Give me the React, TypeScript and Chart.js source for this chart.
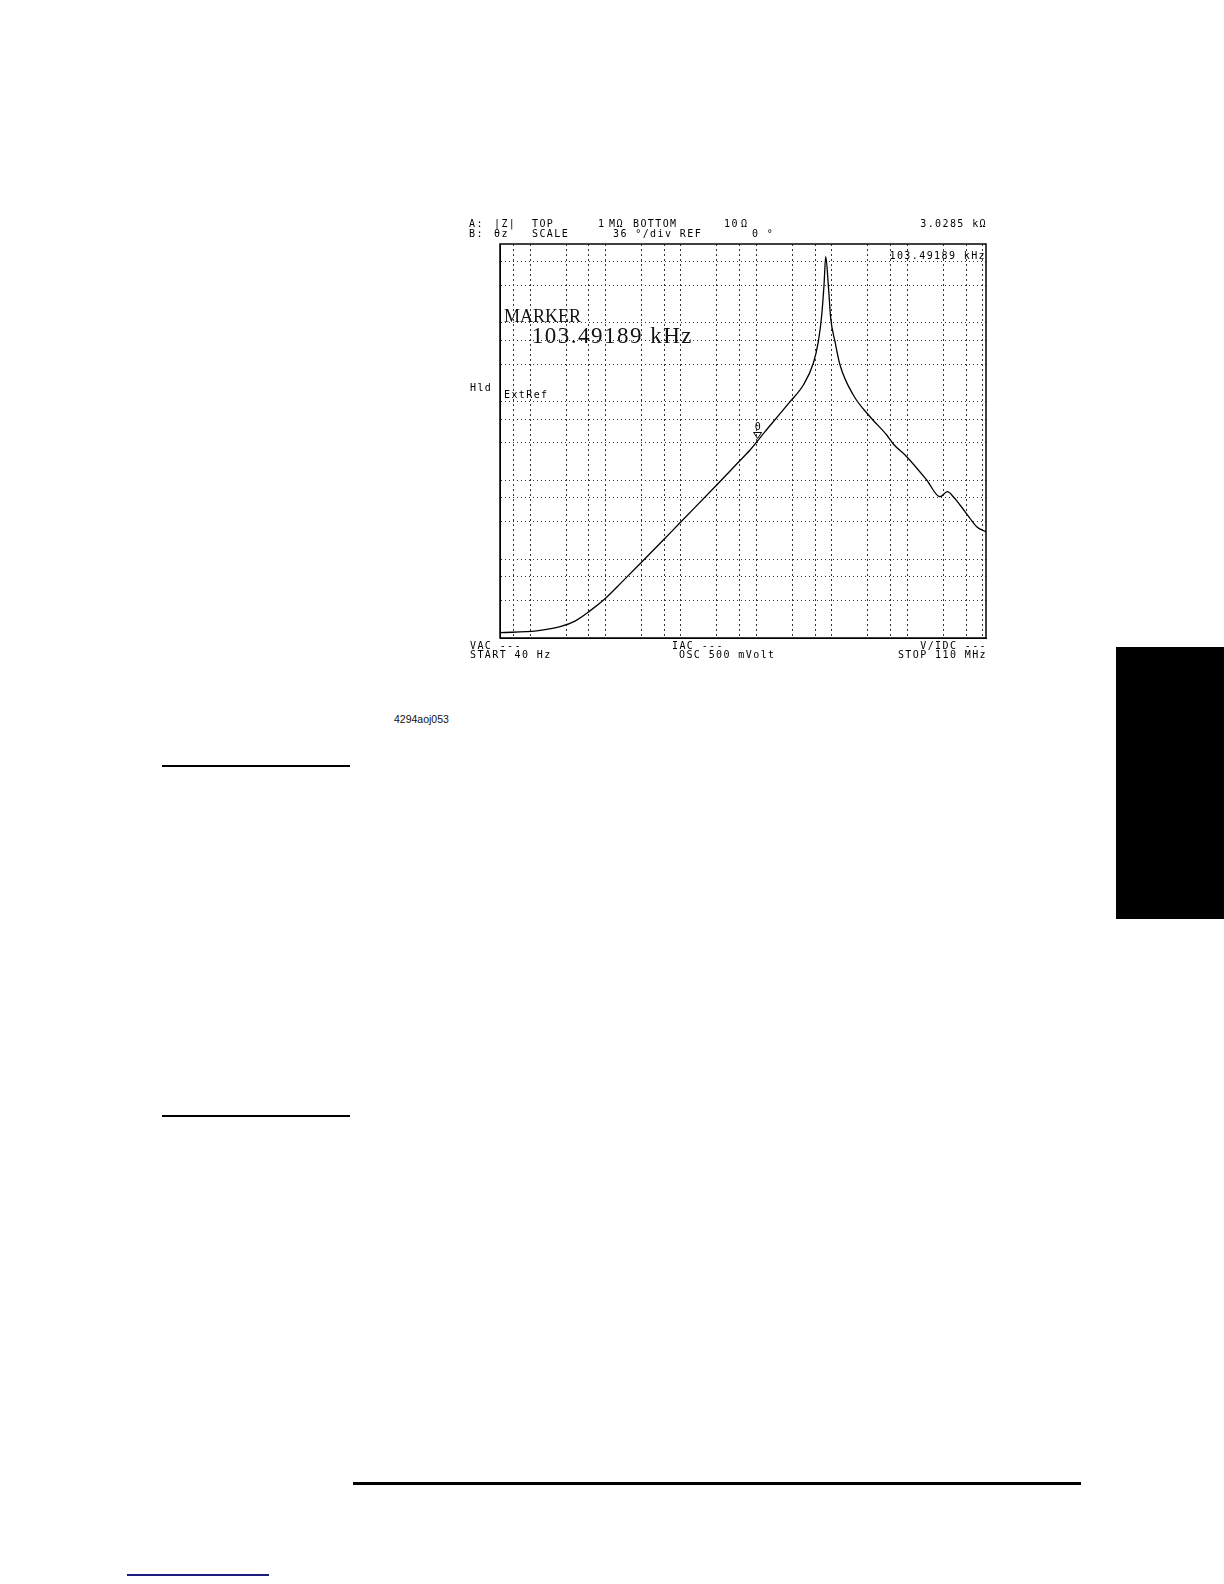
import React, { useEffect, useRef } from "react";
import { Chart, registerables } from "chart.js";

Chart.register(...registerables);

// ---- data ----
const freqHz = [
  40, 122, 250, 394, 604, 985, 1721, 2953, 5832, 9708, 29720, 57520, 82240,
  129800, 278600, 418000, 566800, 660400, 732800, 785600, 828000, 895600,
  964000, 1099000, 1280000, 1919000, 3199000, 5320000, 6500000, 9790000,
  18000000, 27000000, 33800000, 40600000, 49800000, 67600000, 82800000, 110000000,
];
const impedanceOhm = [
  11.7, 12.3, 13.9, 16.4, 21.6, 31.5, 53.5, 90, 175, 290, 874, 1698, 2432,
  4150, 9977, 16250, 30620, 57540, 125600, 301900, 690200, 301900,
  114000, 57540, 29130, 12130, 6430, 3767, 2900, 2000,
  1012, 621, 719, 621, 487, 330, 258, 223,
];
const freqGridHz = [
  60, 100, 300, 600, 1e3, 3e3, 6e3, 1e4, 3e4, 6e4, 1e5, 3e5, 6e5, 1e6, 3e6,
  6e6, 1e7, 3e7, 6e7, 1e8,
];
const impedanceGridOhm = [
  30, 60, 100, 300, 600, 1e3, 3e3, 6e3, 1e4, 3e4, 6e4, 1e5, 3e5, 6e5,
];
const startHz = 40;
const stopHz = 110e6;
const bottomOhm = 10;
const topOhm = 1e6;
const markerHz = 103491.89;
const markerOhm = 3028.5;

// ---- screen annotation texts ----
const smallTexts = [
  "A:", "|Z|", "TOP", "1", "MΩ", "BOTTOM", "10", "Ω", "3.0285 kΩ",
  "B:", "θz", "SCALE", "36 °/div REF", "0 °",
  "103.49189 kHz", "Hld", "ExtRef",
  "VAC ---", "IAC ---", "V/IDC ---",
  "START 40 Hz", "OSC 500 mVolt", "STOP 110 MHz",
];
const bigTexts = ["MARKER", "103.49189 kHz"];
const markerLabel = "0";
const figureId = "4294aoj053";

// ---- layout (page coordinates) ----
const CANVAS_LEFT = 460;
const CANVAS_TOP = 208;
const CANVAS_W = 536;
const CANVAS_H = 456;
const H1 = 226.5;
const H2 = 236.5;
const F1 = 649;
const F2 = 658;
// [x, baselineY, align]
const smallLayout: [number, number, string][] = [
  [469, H1, "left"], [494, H1, "left"], [532, H1, "left"], [598, H1, "left"],
  [609, H1, "left"], [633, H1, "left"], [724, H1, "left"], [741, H1, "left"],
  [987, H1, "right"],
  [469, H2, "left"], [494, H2, "left"], [532, H2, "left"], [613, H2, "left"], [752, H2, "left"],
  [986, 259, "right"], [470, 390.5, "left"], [504, 398, "left"],
  [470, F1, "left"], [672, F1, "left"], [987, F1, "right"],
  [470, F2, "left"], [679, F2, "left"], [987, F2, "right"],
];
const bigLayout: [number, number, number, number][] = [
  // x, baseline, fontSize, letterSpacing
  [504, 322.3, 18, 0],
  [531.7, 343.3, 23, 1.5],
];

const screenPlugin = {
  id: "screenPlugin",
  afterDraw(chart: any) {
    const ctx: CanvasRenderingContext2D = chart.ctx;
    const { left, top, right, bottom } = chart.chartArea;
    ctx.save();
    ctx.setLineDash([]);
    ctx.strokeStyle = "#000";
    ctx.lineWidth = 1.5;
    ctx.strokeRect(left, top, right - left, bottom - top);

    // marker triangle
    const px = chart.scales.x.getPixelForValue(markerHz);
    const py = chart.scales.y.getPixelForValue(markerOhm);
    const tip = py - 4;
    ctx.lineWidth = 1;
    ctx.strokeStyle = "#000";
    ctx.beginPath();
    ctx.moveTo(px - 4, tip - 6);
    ctx.lineTo(px + 4, tip - 6);
    ctx.lineTo(px, tip);
    ctx.closePath();
    ctx.stroke();

    ctx.fillStyle = "#000";
    ctx.textBaseline = "alphabetic";
    ctx.font = "10px 'DejaVu Sans Mono'";
    (ctx as any).letterSpacing = "1.4px";
    ctx.textAlign = "center";
    ctx.fillText(markerLabel, px + 1, tip - 8);

    smallTexts.forEach((t, i) => {
      const [x, y, align] = smallLayout[i];
      ctx.textAlign = align as CanvasTextAlign;
      ctx.fillText(t, x - CANVAS_LEFT, y - CANVAS_TOP);
    });

    ctx.textAlign = "left";
    ctx.fillStyle = "#111";
    bigTexts.forEach((t, i) => {
      const [x, y, size, ls] = bigLayout[i];
      ctx.font = `${size}px 'Liberation Serif'`;
      (ctx as any).letterSpacing = `${ls}px`;
      ctx.fillText(t, x - CANVAS_LEFT, y - CANVAS_TOP);
    });
    ctx.restore();
  },
};

function ImpedanceChart() {
  const ref = useRef<HTMLCanvasElement | null>(null);
  useEffect(() => {
    if (!ref.current) return;
    const points = freqHz.map((f, i) => ({ x: f, y: impedanceOhm[i] }));
    const chart = new Chart(ref.current, {
      type: "line",
      data: {
        datasets: [
          {
            data: points,
            borderColor: "#000",
            borderWidth: 1.3,
            pointRadius: 0,
            cubicInterpolationMode: "monotone",
            fill: false,
          },
        ],
      },
      options: {
        animation: false,
        responsive: false,
        devicePixelRatio: 1,
        layout: { padding: { left: 40, top: 36, right: 10, bottom: 26 } },
        plugins: { legend: { display: false }, tooltip: { enabled: false } },
        scales: {
          x: {
            type: "logarithmic",
            min: startHz,
            max: stopHz,
            afterBuildTicks: (axis: any) => {
              axis.ticks = freqGridHz.map((v) => ({ value: v }));
            },
            ticks: { display: false },
            grid: { color: "#333", lineWidth: 1, drawTicks: false },
            border: { display: true, color: "#000", width: 1, dash: [2, 3] },
          },
          y: {
            type: "logarithmic",
            min: bottomOhm,
            max: topOhm,
            afterBuildTicks: (axis: any) => {
              axis.ticks = impedanceGridOhm.map((v) => ({ value: v }));
            },
            ticks: { display: false },
            grid: { color: "#333", lineWidth: 1, drawTicks: false },
            border: { display: true, color: "#000", width: 1, dash: [1, 3] },
          },
        },
      },
      plugins: [screenPlugin],
    } as any);
    return () => chart.destroy();
  }, []);
  return (
    <canvas
      ref={ref}
      width={CANVAS_W}
      height={CANVAS_H}
      style={{
        position: "absolute",
        left: CANVAS_LEFT,
        top: CANVAS_TOP,
        width: CANVAS_W,
        height: CANVAS_H,
      }}
    />
  );
}

export default function App() {
  return (
    <div
      style={{
        position: "absolute",
        left: 0,
        top: 0,
        width: 1224,
        height: 1584,
        overflow: "hidden",
        background: "#fff",
      }}
    >
      <ImpedanceChart />
      <div
        style={{
          position: "absolute",
          left: 394,
          top: 713,
          fontFamily: "'Liberation Sans', Arial, sans-serif",
          fontSize: 10.5,
          lineHeight: "12px",
          color: "#111",
        }}
      >
        {figureId}
      </div>
      <div style={{ position: "absolute", left: 1116, top: 647, width: 108, height: 272, background: "#000" }} />
      <div style={{ position: "absolute", left: 162, top: 765, width: 188, height: 1.5, background: "#000" }} />
      <div style={{ position: "absolute", left: 162, top: 1115, width: 188, height: 1.5, background: "#000" }} />
      <div style={{ position: "absolute", left: 353, top: 1482, width: 728, height: 3, background: "#000" }} />
      <div style={{ position: "absolute", left: 127, top: 1574, width: 142, height: 1.5, background: "#1c1c80" }} />
    </div>
  );
}
